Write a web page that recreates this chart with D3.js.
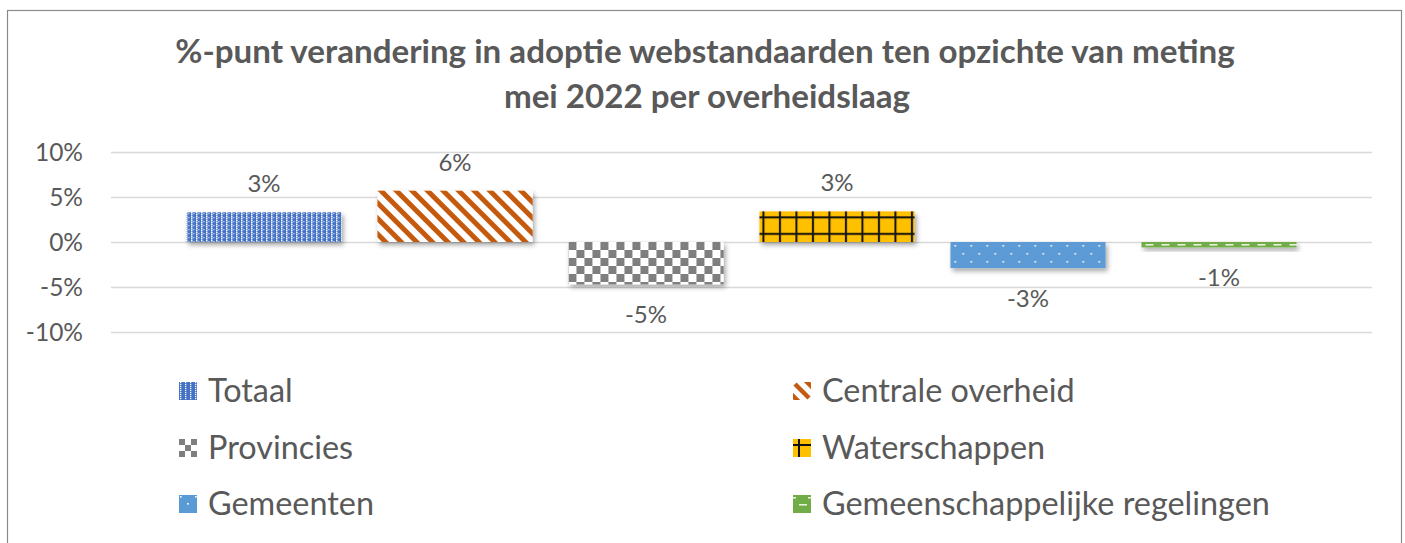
<!DOCTYPE html>
<html><head><meta charset="utf-8">
<script src="https://cdn.jsdelivr.net/npm/d3@7/dist/d3.min.js"></script>
<style>
html,body{margin:0;padding:0;background:#fff;}
svg{display:block;font-family:Lato,"Open Sans",sans-serif;}
</style></head>
<body><svg id="c" width="1405" height="543"></svg>
<script>
const titleLines = ["%-punt verandering in adoptie webstandaarden ten opzichte van meting", "mei 2022 per overheidslaag"];
const series = ["Totaal", "Centrale overheid", "Provincies", "Waterschappen", "Gemeenten", "Gemeenschappelijke regelingen"];
const values = [0.033, 0.057, -0.047, 0.034, -0.029, -0.006];
const labels = ["3%", "6%", "-5%", "3%", "-3%", "-1%"];
const yTicks = [0.10, 0.05, 0, -0.05, -0.10];
const yTickLabels = ["10%", "5%", "0%", "-5%", "-10%"];

const svg = d3.select("#c");
const grey = "#595959";

// border
svg.append("rect").attr("x", 7.5).attr("y", 10.5).attr("width", 1394).attr("height", 560)
  .attr("fill", "#fff").attr("stroke", "#8a8a8a").attr("stroke-width", 1.2);

const plot = {left: 111, right: 1372, top: 152, bottom: 332};
const y = d3.scaleLinear().domain([-0.1, 0.1]).range([plot.bottom, plot.top]);
const x = d3.scaleBand().domain(series).range([plot.left, plot.right]).paddingInner(0.188).paddingOuter(0.395);

const defs = svg.append("defs");
const f = defs.append("filter").attr("id", "sh").attr("x", "-10%").attr("y", "-30%").attr("width", "130%").attr("height", "200%");
f.append("feDropShadow").attr("dx", 2).attr("dy", 3).attr("stdDeviation", 2.5).attr("flood-color", "#000").attr("flood-opacity", 0.35);

function pat(id, w, h, bg, draw, extra) {
  const p = defs.append("pattern").attr("id", id).attr("patternUnits", "userSpaceOnUse").attr("width", w).attr("height", h);
  if (extra) extra(p);
  p.append("rect").attr("width", w).attr("height", h).attr("fill", bg);
  draw(p);
  return p;
}
// Totaal: blue with white dotted vertical stripes
pat("p0", 5, 4, "#4472C4", p => {
  p.append("rect").attr("x", 1).attr("y", 0).attr("width", 1.5).attr("height", 1.5).attr("fill", "#fff");
  p.append("rect").attr("x", 1).attr("y", 2).attr("width", 1.5).attr("height", 1.5).attr("fill", "#fff");
  p.append("rect").attr("x", 3.4).attr("y", 1).attr("width", 1).attr("height", 1.2).attr("fill", "#e8eef8");
});
// Centrale overheid: wide downward diagonal
pat("p1", 11, 11, "#fff", p => {
  p.append("rect").attr("x", 0).attr("y", 0).attr("width", 5).attr("height", 11).attr("fill", "#C55A11");
}, p => p.attr("patternTransform", "rotate(-45)"));
// Provincies: large checkerboard
pat("p2", 16, 16, "#fff", p => {
  p.append("rect").attr("x", 0).attr("y", 0).attr("width", 8).attr("height", 8).attr("fill", "#7F7F7F");
  p.append("rect").attr("x", 8).attr("y", 8).attr("width", 8).attr("height", 8).attr("fill", "#7F7F7F");
}, p => p.attr("x", x("Provincies")).attr("y", y(0)));
// Waterschappen: gold with black grid
pat("p3", 16.5, 16.5, "#FFC000", p => {
  p.append("rect").attr("x", 3).attr("y", 0).attr("width", 2).attr("height", 16.5).attr("fill", "#111");
  p.append("rect").attr("x", 0).attr("y", 5).attr("width", 16.5).attr("height", 2).attr("fill", "#111");
}, p => p.attr("x", x("Waterschappen")).attr("y", y(0.034)));
// Gemeenten: blue with sparse white dots
pat("p4", 16, 16, "#5B9BD5", p => {
  p.append("rect").attr("x", 4).attr("y", 3).attr("width", 1.6).attr("height", 1.6).attr("fill", "#fff");
  p.append("rect").attr("x", 12).attr("y", 11).attr("width", 1.6).attr("height", 1.6).attr("fill", "#fff");
}, p => p.attr("x", x("Gemeenten")).attr("y", y(0)));
// Gemeenschappelijke regelingen: green with dashed horizontal
pat("p5", 16, 8, "#70AD47", p => {
  p.append("rect").attr("x", 4).attr("y", 2).attr("width", 8).attr("height", 1.6).attr("fill", "#e6f0dd");
}, p => p.attr("x", x("Gemeenschappelijke regelingen")).attr("y", y(0)));

// gridlines
svg.append("g").selectAll("line").data(yTicks).join("line")
  .attr("x1", plot.left).attr("x2", plot.right)
  .attr("y1", d => Math.round(y(d)) + 0.5).attr("y2", d => Math.round(y(d)) + 0.5)
  .attr("stroke", "#d9d9d9").attr("stroke-width", 1.5);

// y axis labels
svg.append("g").selectAll("text").data(yTicks).join("text")
  .attr("x", 83).attr("y", d => y(d) + 8.5)
  .attr("text-anchor", "end").attr("fill", grey).attr("font-size", 24.5)
  .text((d, i) => yTickLabels[i]);

// bars
svg.append("g").selectAll("rect").data(series).join("rect")
  .attr("x", d => x(d)).attr("width", x.bandwidth())
  .attr("y", (d, i) => y(Math.max(0, values[i])))
  .attr("height", (d, i) => Math.abs(y(values[i]) - y(0)))
  .attr("fill", (d, i) => `url(#p${i})`)
  .attr("filter", "url(#sh)");

// data labels
svg.append("g").selectAll("text").data(series).join("text")
  .attr("x", d => x(d) + x.bandwidth() / 2)
  .attr("y", (d, i) => values[i] >= 0 ? y(values[i]) - 20 : y(values[i]) + 39)
  .attr("text-anchor", "middle").attr("fill", grey).attr("font-size", 24)
  .text((d, i) => labels[i]);

function fit(sel, target) {
  const w = sel.node().getComputedTextLength();
  const fs = parseFloat(sel.attr("font-size"));
  sel.attr("font-size", fs * target / w);
}

// title
const t1 = svg.append("text").attr("x", 705).attr("y", 63).attr("text-anchor", "middle")
  .attr("font-weight", "bold").attr("fill", grey).attr("font-size", 28).text(titleLines[0]);
fit(t1, 1060);
svg.append("text").attr("x", 707).attr("y", 108).attr("text-anchor", "middle")
  .attr("font-weight", "bold").attr("fill", grey).attr("font-size", t1.attr("font-size")).text(titleLines[1]);

// legend
const legCols = [179, 793];
const legRows = [391, 448, 504];
const leg = svg.append("g").selectAll("g").data(series).join("g")
  .attr("transform", (d, i) => `translate(${legCols[i % 2]},${legRows[Math.floor(i / 2)]})`);
leg.append("rect").attr("x", 0).attr("y", -9).attr("width", 18).attr("height", 18)
  .attr("fill", (d, i) => `url(#l${i})`);
const lp = [
  ["#4472C4", g => { for (let xx = 1; xx < 18; xx += 5) for (let yy = 0; yy < 18; yy += 2) g.append("rect").attr("x", xx).attr("y", yy).attr("width", 1.3).attr("height", 1.2).attr("fill", "#fff"); }],
  ["#fff", g => { g.append("path").attr("d", "M2,2 L16,16").attr("stroke", "#C55A11").attr("stroke-width", 4.5); g.append("path").attr("d", "M-4,10 L6,20 M10,-4 L20,6").attr("stroke", "#C55A11").attr("stroke-width", 4.5); }],
  ["#fff", g => { [[0,0],[12,0],[6,6],[0,12],[12,12]].forEach(([a,b]) => g.append("rect").attr("x", a).attr("y", b).attr("width", 6).attr("height", 6).attr("fill", "#7F7F7F")); }],
  ["#FFC000", g => { g.append("rect").attr("x", 5).attr("y", 0).attr("width", 2).attr("height", 18).attr("fill", "#111"); g.append("rect").attr("x", 0).attr("y", 5).attr("width", 18).attr("height", 2).attr("fill", "#111"); }],
  ["#5B9BD5", g => { [[1,1],[16,1],[8,8]].forEach(([a,b]) => g.append("rect").attr("x", a).attr("y", b).attr("width", 1.6).attr("height", 1.6).attr("fill", "#fff")); }],
  ["#70AD47", g => { g.append("rect").attr("x", 0).attr("y", 2).attr("width", 3).attr("height", 1.6).attr("fill", "#e6f0dd"); g.append("rect").attr("x", 6).attr("y", 9).attr("width", 8).attr("height", 1.6).attr("fill", "#e6f0dd"); g.append("rect").attr("x", 15).attr("y", 2).attr("width", 3).attr("height", 1.6).attr("fill", "#e6f0dd"); }]
];
lp.forEach(([bg, draw], i) => {
  const p = defs.append("pattern").attr("id", `l${i}`).attr("patternUnits", "objectBoundingBox").attr("patternContentUnits", "userSpaceOnUse").attr("width", 1).attr("height", 1);
  const g = p.append("g");
  g.append("rect").attr("width", 18).attr("height", 18).attr("fill", bg);
  draw(g);
});
const lt = leg.append("text").attr("x", 29).attr("y", 11).attr("fill", grey).attr("font-size", 28).text(d => d);
const longest = lt.filter(d => d === "Gemeenschappelijke regelingen");
const w0 = longest.node().getComputedTextLength();
lt.attr("font-size", 28 * 448 / w0);
</script></body></html>
